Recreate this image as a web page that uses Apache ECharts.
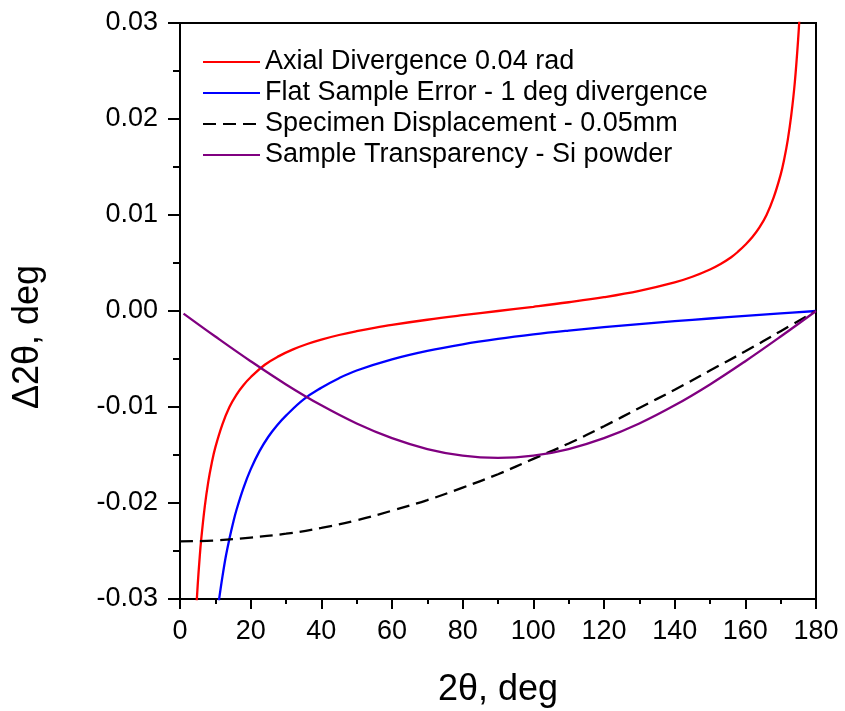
<!DOCTYPE html>
<html><head><meta charset="utf-8">
<script src="https://cdn.jsdelivr.net/npm/echarts@6/dist/echarts.min.js"></script>
<style>html,body{margin:0;padding:0;background:#fff}#c{width:845px;height:711px}</style>
</head><body><div id="c"></div>
<script>
// Tick definitions
const xTicks = [0, 20, 40, 60, 80, 100, 120, 140, 160, 180];
const yTicks = [-0.03, -0.02, -0.01, 0.00, 0.01, 0.02, 0.03];

// Series names
const seriesNames = [
  'Axial Divergence 0.04 rad',
  'Flat Sample Error - 1 deg divergence',
  'Specimen Displacement - 0.05mm',
  'Sample Transparency - Si powder'
];

// Axial divergence
const axialX = [4, 4.5, 5, 5.5, 6, 7, 8, 9, 10, 12, 14, 16, 18, 20, 24, 28, 32, 36, 40, 45, 50, 55, 60, 70, 80, 90, 100, 110, 120, 130, 140, 145, 150, 153, 156, 158, 160, 162, 164, 166, 168, 170, 171, 172, 173, 174, 175, 175.5, 176];
const axialY = [-0.0358, -0.0318, -0.0286, -0.0260, -0.0238, -0.0204, -0.0178, -0.0158, -0.0142, -0.0118, -0.0100, -0.0087, -0.0077, -0.0069, -0.0056, -0.0047, -0.0040, -0.00344, -0.00298, -0.0025, -0.0021, -0.00175, -0.00144, -0.00091, -0.00044, 0.0000, 0.00044, 0.00091, 0.00144, 0.0021, 0.00298, 0.00357, 0.00433, 0.0049, 0.0056, 0.0062, 0.0069, 0.0077, 0.0087, 0.0100, 0.0118, 0.0142, 0.0158, 0.0178, 0.0204, 0.0238, 0.0286, 0.0318, 0.0358];

// Flat sample error
const flatX = [11, 12, 13, 14, 15, 16, 18, 20, 22.5, 25, 27.5, 30, 35, 40, 45, 50, 60, 70, 80, 90, 100, 110, 120, 130, 140, 150, 160, 170, 180];
const flatY = [-0.0302, -0.0277, -0.0255, -0.0237, -0.0221, -0.0207, -0.0184, -0.0165, -0.0146, -0.0131, -0.0119, -0.0109, -0.0092, -0.0080, -0.0070, -0.0062, -0.00504, -0.00416, -0.00347, -0.00291, -0.00244, -0.00204, -0.00168, -0.00136, -0.00106, -0.00078, -0.00051, -0.00025, 0.0000];

// Specimen displacement
const dispX = [0, 10, 20, 30, 40, 50, 60, 70, 80, 90, 100, 110, 120, 130, 140, 150, 160, 170, 180];
const dispY = [-0.0240, -0.0239, -0.0236, -0.0232, -0.0226, -0.0218, -0.0208, -0.0197, -0.0184, -0.0170, -0.0154, -0.0138, -0.0120, -0.0101, -0.0082, -0.0062, -0.0042, -0.0021, 0.0000];

// Sample transparency
const transX = [1, 10, 20, 30, 40, 50, 60, 70, 80, 90, 100, 110, 120, 130, 140, 150, 160, 170, 180];
const transY = [-0.00027, -0.00266, -0.00523, -0.00765, -0.00983, -0.01172, -0.01325, -0.01438, -0.01507, -0.0153, -0.01507, -0.01438, -0.01325, -0.01172, -0.00983, -0.00765, -0.00523, -0.00266, 0.0000];

const colors = ['#ff0000', '#0000ff', '#000000', '#800080'];
const FONT = 'Liberation Sans, Arial, sans-serif';
const LW = 2.3;

function pairs(xs, ys) { return xs.map((x, i) => [x, ys[i]]); }

const chart = echarts.init(document.getElementById('c'), null, {renderer: 'canvas'});
chart.setOption({
  animation: false,
  backgroundColor: '#ffffff',
  grid: {left: 180, right: 29, top: 23, bottom: 112, show: true, borderColor: '#000', borderWidth: 2, backgroundColor: 'transparent',
         containLabel: false, outerBoundsMode: 'none'},
  legend: {
    orient: 'vertical', left: 202, top: 48, padding: 0,
    itemWidth: 57, itemHeight: 14, itemGap: 3,
    itemStyle: {opacity: 0},
    textStyle: {fontFamily: FONT, fontSize: 27, color: '#000', lineHeight: 28},
    data: seriesNames.map(n => ({name: n}))
  },
  xAxis: {
    type: 'value', min: xTicks[0], max: xTicks[xTicks.length - 1], interval: 20,
    name: '2θ, deg', nameLocation: 'middle', nameGap: 73,
    nameTextStyle: {fontFamily: FONT, fontSize: 36, color: '#000'},
    axisLine: {onZero: false, lineStyle: {color: '#000', width: 2}},
    axisTick: {length: 10, lineStyle: {color: '#000', width: 2}},
    minorTick: {show: true, splitNumber: 2, length: 5, lineStyle: {color: '#000', width: 2}},
    splitLine: {show: false},
    axisLabel: {fontFamily: FONT, fontSize: 27, color: '#000', margin: 19}
  },
  yAxis: {
    type: 'value', min: yTicks[0], max: yTicks[yTicks.length - 1], interval: 0.01,
    axisLine: {onZero: false, lineStyle: {color: '#000', width: 2}},
    axisTick: {length: 12, lineStyle: {color: '#000', width: 2}},
    minorTick: {show: true, splitNumber: 2, length: 7, lineStyle: {color: '#000', width: 2}},
    splitLine: {show: false},
    axisLabel: {fontFamily: FONT, fontSize: 27, color: '#000', margin: 22,
      formatter: v => (Math.abs(v) < 1e-9 ? 0 : v).toFixed(2)}
  },
  graphic: [{
    type: 'text', x: 28, y: 337, rotation: Math.PI / 2,
    style: {text: 'Δ2θ, deg', font: '36px ' + FONT, fill: '#000', align: 'center', verticalAlign: 'middle'}
  }],
  series: [
    {name: seriesNames[0], type: 'line', data: pairs(axialX, axialY), smooth: 0.4, symbol: 'none', clip: true,
     lineStyle: {color: colors[0], width: LW}, itemStyle: {color: colors[0]}},
    {name: seriesNames[1], type: 'line', data: pairs(flatX, flatY), smooth: 0.4, symbol: 'none', clip: true,
     lineStyle: {color: colors[1], width: LW}, itemStyle: {color: colors[1]}},
    {name: seriesNames[2], type: 'line', data: pairs(dispX, dispY), smooth: 0.4, symbol: 'none', clip: true,
     lineStyle: {color: colors[2], width: LW, type: [13, 7]}, itemStyle: {color: colors[2]}},
    {name: seriesNames[3], type: 'line', data: pairs(transX, transY), smooth: 0.4, symbol: 'none', clip: true,
     lineStyle: {color: colors[3], width: LW}, itemStyle: {color: colors[3]}}
  ]
});
</script></body></html>
